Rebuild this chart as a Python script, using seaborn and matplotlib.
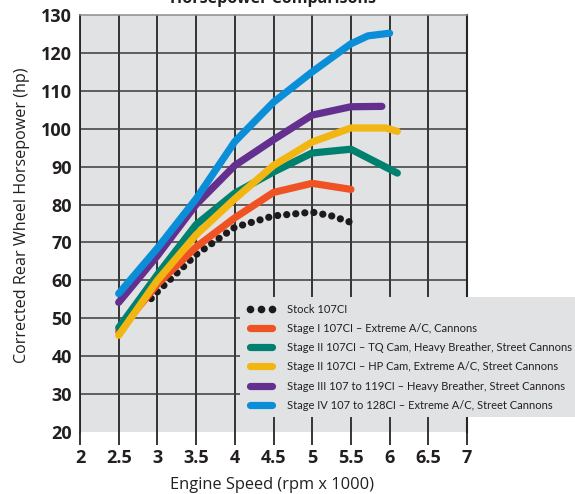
import matplotlib
matplotlib.use("Agg")
import matplotlib.pyplot as plt
from matplotlib.lines import Line2D
from matplotlib import font_manager as fm
import seaborn as sns
import pandas as pd

# ---- data ----
rpm_stock = [2.92, 3.0, 3.5, 4.0, 4.5, 5.0, 5.25, 5.5]
hp_stock = [55.2, 57, 66.8, 74, 77, 78, 77, 75.3]

rpm_s1 = [2.5, 3.0, 3.5, 4.0, 4.5, 5.0, 5.5]
hp_s1 = [46.5, 59, 68.8, 76.5, 83.2, 85.6, 84]

rpm_s2tq = [2.5, 3.0, 3.5, 4.0, 4.5, 5.0, 5.5, 6.1]
hp_s2tq = [47.5, 61.5, 74.7, 83, 88.6, 93.6, 94.6, 88.3]

rpm_s2hp = [2.5, 3.0, 3.5, 4.0, 4.5, 5.0, 5.5, 5.95, 6.1]
hp_s2hp = [45.5, 60, 72, 81.5, 90.3, 96.5, 100.2, 100.2, 99.3]

rpm_s3 = [2.5, 3.0, 3.5, 4.0, 4.5, 5.0, 5.5, 5.9]
hp_s3 = [54.2, 66.5, 80, 90.3, 97.1, 103.6, 105.8, 105.9]

rpm_s4 = [2.5, 3.0, 3.5, 4.0, 4.5, 5.0, 5.5, 5.72, 6.0]
hp_s4 = [56.5, 68.5, 81.5, 96.6, 107, 115, 122.4, 124.5, 125.2]

labels = [
    "Stock 107CI",
    "Stage I 107CI \u2013 Extreme A/C, Cannons",
    "Stage II 107CI \u2013 TQ Cam, Heavy Breather, Street Cannons",
    "Stage II 107CI \u2013 HP Cam, Extreme A/C, Street Cannons",
    "Stage III 107 to 119CI \u2013 Heavy Breather, Street Cannons",
    "Stage IV 107 to 128CI \u2013 Extreme A/C, Street Cannons",
]
colors = ["#1c1a1b", "#f05323", "#00816f", "#f2b612", "#64308f", "#0b8ed8"]

x_ticks = [2, 2.5, 3, 3.5, 4, 4.5, 5, 5.5, 6, 6.5, 7]
x_tick_labels = ["2", "2.5", "3", "3.5", "4", "4.5", "5", "5.5", "6", "6.5", "7"]
y_ticks = [20, 30, 40, 50, 60, 70, 80, 90, 100, 110, 120, 130]

sns.set_theme(style="white")
plt.rcParams["lines.solid_capstyle"] = "round"
plt.rcParams["lines.dash_capstyle"] = "round"

fig = plt.figure(figsize=(5.75, 4.94), dpi=100)
W, H = 575, 494
ax_l, ax_r, ax_t, ax_b = 80, 467, 15, 432
ax = fig.add_axes([ax_l / W, 1 - ax_b / H, (ax_r - ax_l) / W, (ax_b - ax_t) / H])
ax.set_facecolor("#e1e2e4")

series = [
    (rpm_stock, hp_stock),
    (rpm_s1, hp_s1),
    (rpm_s2tq, hp_s2tq),
    (rpm_s2hp, hp_s2hp),
    (rpm_s3, hp_s3),
    (rpm_s4, hp_s4),
]
lw = 5.2
for i, ((xs, ys), c, lab) in enumerate(zip(series, colors, labels)):
    df = pd.DataFrame({"rpm": xs, "hp": ys})
    kw = {}
    if i == 0:
        kw["linestyle"] = (0, (0.01, 1.25))
    sns.lineplot(data=df, x="rpm", y="hp", ax=ax, color=c, linewidth=lw,
                 sort=False, estimator=None, legend=False, zorder=3 + i, **kw)

ax.set_xlim(2, 7)
ax.set_ylim(20, 130)
ax.set_xticks(x_ticks)
ax.set_xticklabels(x_tick_labels)
ax.set_yticks(y_ticks)

for t in ax.get_xticklabels() + ax.get_yticklabels():
    t.set_fontfamily("Open Sans")
    t.set_fontweight("bold")
    t.set_fontsize(13)
    t.set_color("#231f20")

ax.grid(True, axis="x", color="#262626", linewidth=1.3, zorder=1)
ax.grid(True, axis="y", color="#3a3a3a", linewidth=1.1, zorder=1)
ax.set_axisbelow(True)
ygl = ax.get_ygridlines()
ygl[0].set_visible(False)
ygl[-1].set_visible(False)

ax.tick_params(axis="x", direction="out", length=9, width=1.3, color="#262626",
               pad=3, bottom=True)
ax.tick_params(axis="y", length=0, pad=6)

ax.spines["bottom"].set_visible(False)
ax.spines["left"].set_color("#262626")
ax.spines["left"].set_linewidth(1.3)
ax.spines["right"].set_color("#262626")
ax.spines["right"].set_linewidth(1.5)
ax.spines["top"].set_color("#8c8c8c")
ax.spines["top"].set_linewidth(1.1)

ax.set_xlabel("Engine Speed (rpm x 1000)", fontfamily="Open Sans", fontsize=11.8,
              color="#231f20")
ax.set_ylabel("Corrected Rear Wheel Horsepower (hp)", fontfamily="Open Sans",
              fontsize=11.6, color="#231f20")
ax.xaxis.set_label_coords((272 - ax_l) / (ax_r - ax_l), -(485 - ax_b) / (ax_b - ax_t))
ax.yaxis.set_label_coords(-(80 - 22) / (ax_r - ax_l), (ax_b - 215) / (ax_b - ax_t))
ax.xaxis.label.set_verticalalignment("center")
ax.yaxis.label.set_verticalalignment("center")

fig.text(272.5 / W, 1 - 3 / H, "Horsepower Comparisons", ha="center", va="baseline",
         fontfamily="Open Sans", fontweight="bold", fontsize=11.5, color="#231f20")

handles = [Line2D([0], [0], linestyle="none", marker="o", markersize=5.5,
                  color=colors[0], markeredgewidth=0)]
for c in colors[1:]:
    handles.append(Line2D([0], [0], color=c, linewidth=lw, solid_capstyle="round"))

leg_prop = fm.FontProperties(family="Lato", size=8.0)
leg = ax.legend(handles, labels, loc="upper left",
                bbox_to_anchor=(240 / W, 1 - 297 / H), bbox_transform=fig.transFigure,
                borderaxespad=0, borderpad=0.6, numpoints=3, handlelength=2.6,
                handletextpad=1.0, labelspacing=0.74, frameon=True, fancybox=False,
                prop=leg_prop)
fr = leg.get_frame()
fr.set_facecolor("#e1e2e4")
fr.set_edgecolor("none")
fr.set_alpha(1)
leg.set_zorder(20)
for t in leg.get_texts():
    t.set_color("#231f20")

fig.savefig("out.png", dpi=100)
